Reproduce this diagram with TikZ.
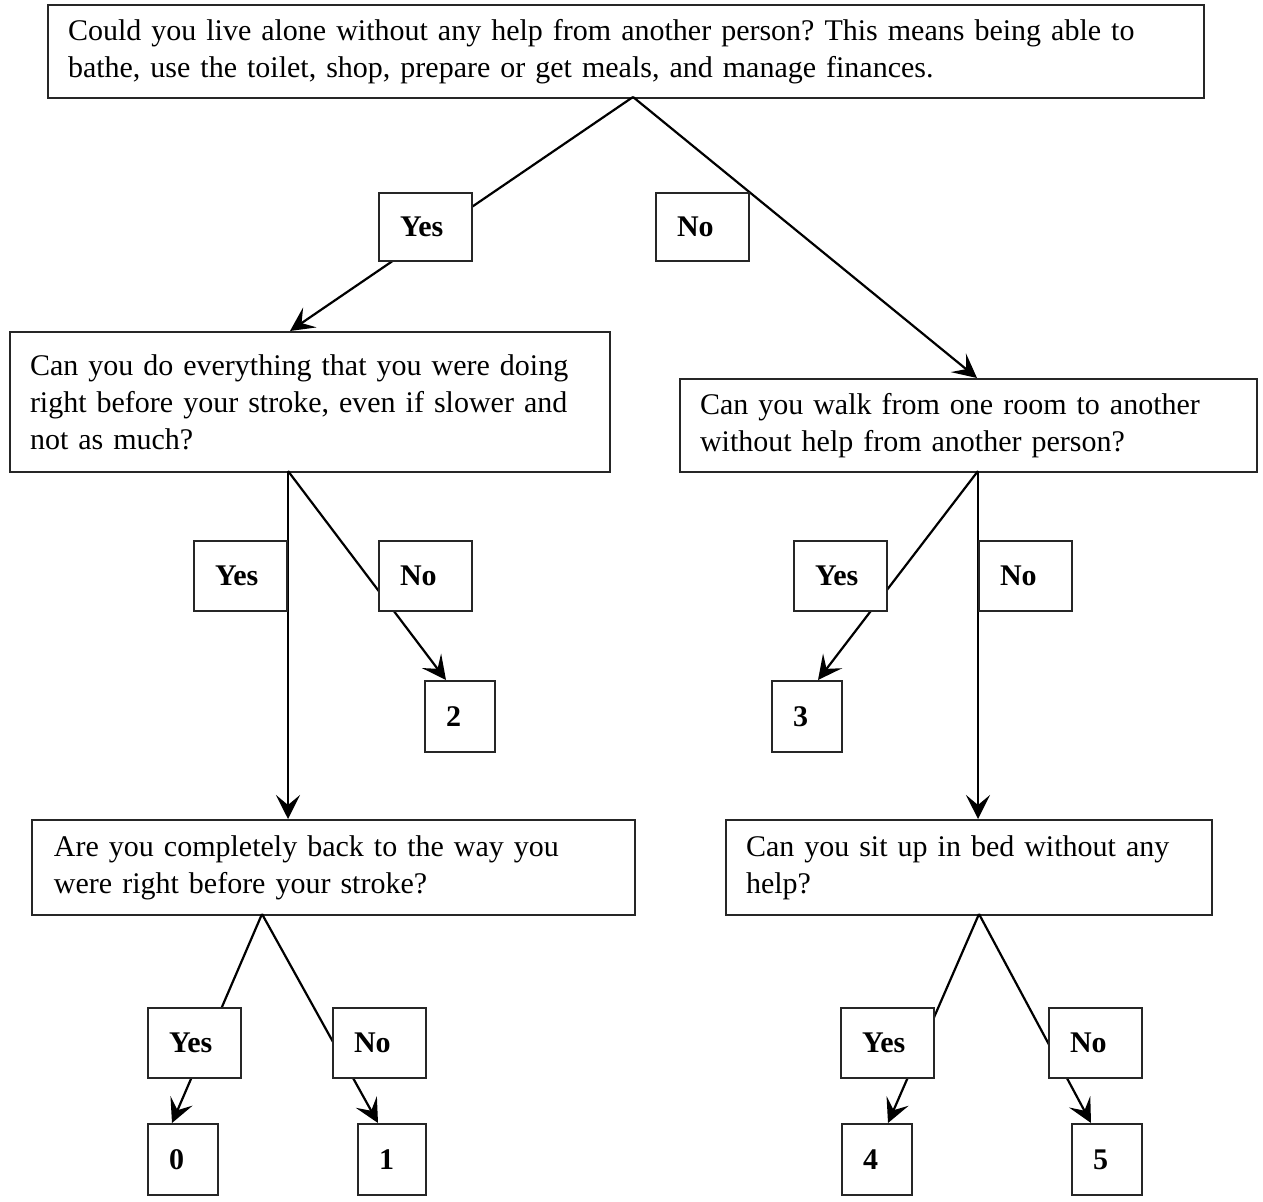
\documentclass[tikz,border=0pt]{standalone}
\usepackage{fontspec}
\setmainfont{Liberation Serif}
\usetikzlibrary{arrows.meta}
\frenchspacing
\begin{document}
\begin{tikzpicture}[x=0.5pt,y=-0.5pt,
  box/.style={draw=black!85, line width=1pt, fill=white, anchor=north west, inner ysep=0pt, inner xsep=10pt, align=left, font=\fontsize{15}{18.5}\selectfont},
  lab/.style={draw=black!85, line width=1pt, fill=white, anchor=north west, inner ysep=0pt, inner xsep=10.5pt, align=left, minimum width=46.5pt, minimum height=35pt, text width=25.5pt, font=\fontsize{15}{17}\selectfont\bfseries},
  res/.style={lab, minimum width=35pt, minimum height=35.5pt, text width=14pt},
  conn/.style={line width=1.1pt, -{Stealth[length=12pt,width=12pt,inset=5pt]}},
  link/.style={line width=1pt}]
\useasboundingbox (0,0) rectangle (1263,1202);
\fill[white] (0,0) rectangle (1263,1202);

% question boxes
\node[box, minimum width=578pt, minimum height=46.5pt, text width=558pt] (T) at (47,4)
  {\raisebox{-1.5pt}{Could you live alone without any help from another person? This means being able to}\\ \raisebox{-1.5pt}{bathe, use the toilet, shop, prepare or get meals, and manage finances.}};
\node[box, minimum width=300pt, minimum height=70pt, text width=280pt] (Q1) at (9,331)
  {Can you do everything that you were doing\\ right before your stroke, even if slower and\\ not as much?};
\node[box, minimum width=288.5pt, minimum height=46.5pt, text width=268.5pt] (Q2) at (679,378)
  {Can you walk from one room to another\\ without help from another person?};
\node[box, inner xsep=11pt, minimum width=301.5pt, minimum height=47.5pt, text width=279.5pt] (Q3) at (31,819)
  {Are you completely back to the way you\\ were right before your stroke?};
\node[box, minimum width=243pt, minimum height=47.5pt, text width=223pt] (Q4) at (725,819)
  {Can you sit up in bed without any\\ help?};

% result boxes
\node[res] (R2) at (424,680) {2};
\node[res] (R3) at (771,680) {3};
\node[res] (R0) at (147,1123) {0};
\node[res, minimum width=34pt, text width=13pt] (R1) at (357,1123) {1};
\node[res] (R4) at (841,1123) {4};
\node[res] (R5) at (1071,1123) {5};

% attachment points
\coordinate (t0) at (633,97);
\coordinate (q1in) at (290,331);
\coordinate (q2in) at (977,378);
\coordinate (q1out) at (288,471);
\coordinate (q3in) at (288,819);
\coordinate (r2in) at (446,680);
\coordinate (q2out) at (978,471);
\coordinate (q4in) at (978,819);
\coordinate (r3in) at (818,680);
\coordinate (q3out) at (262,914);
\coordinate (r0in) at (172,1123);
\coordinate (r1in) at (378,1123);
\coordinate (q4out) at (979,914);
\coordinate (r4in) at (888,1123);
\coordinate (r5in) at (1091,1123);

% connectors
\draw[conn] (t0) -- (q1in);
\draw[conn] (t0) -- (q2in);
\draw[conn] (q1out) -- (q3in);
\draw[conn] (q1out) -- (r2in);
\draw[conn] (q2out) -- (q4in);
\draw[conn] (q2out) -- (r3in);
\draw[conn] (q3out) -- (r0in);
\draw[conn] (q3out) -- (r1in);
\draw[conn] (q4out) -- (r4in);
\draw[conn] (q4out) -- (r5in);

% branch labels (drawn over the connectors)
\node[lab, minimum height=34pt] (Y1) at (378,192) {Yes};
\node[lab, minimum height=34pt] (N1) at (655,192) {No};
\node[lab] (Y2) at (193,540) {Yes};
\node[lab] (N2) at (378,540) {No};
\node[lab] (Y3) at (793,540) {Yes};
\node[lab] (N3) at (978,540) {No};
\node[lab] (Y4) at (147,1007) {Yes};
\node[lab] (N4) at (332,1007) {No};
\node[lab] (Y5) at (840,1007) {Yes};
\node[lab] (N5) at (1048,1007) {No};
\end{tikzpicture}
\end{document}
